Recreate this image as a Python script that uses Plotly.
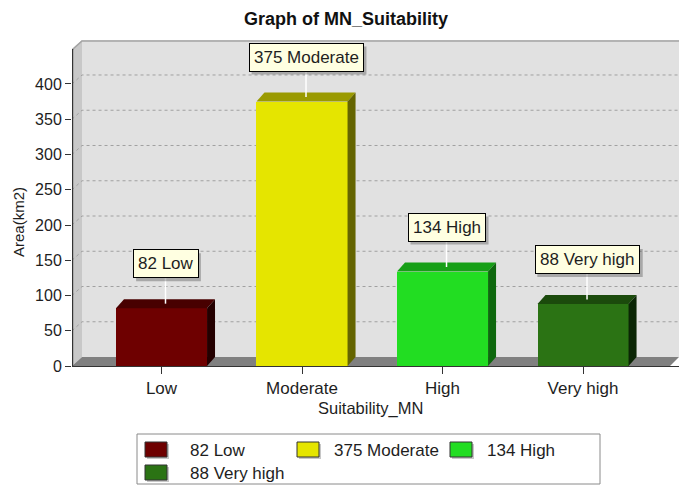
import plotly.graph_objects as go

# ---------------- data ----------------
categories = ["Low", "Moderate", "High", "Very high"]
areas = [82, 375, 134, 88]
front_colors = ["#6E0000", "#E5E500", "#22DD22", "#2B7314"]
top_colors = ["#480000", "#9A9A00", "#179F17", "#1B4A0C"]
side_colors = ["#240000", "#646400", "#0E680E", "#0B2605"]
y_ticks = [0, 50, 100, 150, 200, 250, 300, 350, 400]
chart_title = "Graph of MN_Suitability"
x_title = "Suitability_MN"
y_title = "Area(km2)"

# ---------------- geometry ----------------
W, H = 679, 485
L, R, T, B = 72, 0, 40, 119
plot_w = W - L - R
plot_h = H - T - B
XMIN, XMAX = -0.637, 3.683
YMAX = 462.4
FONT = "Liberation Sans, Arial, sans-serif"
TXT = "#1e1e1e"
LABEL_SIZE = 17
LABEL_PAD = 4

# approximate Arial advance widths (em) for sizing the label shadows
AW = {" ": .278, "L": .556, "o": .556, "w": .722, "M": .833, "d": .556, "e": .556,
      "r": .333, "a": .556, "t": .278, "H": .722, "i": .222, "g": .556, "h": .556,
      "V": .667, "y": .5}


def text_w(s, size):
    return sum(AW.get(c, .556) for c in s) * size


def dx(px):
    return px * (XMAX - XMIN) / plot_w


def dy(px):
    return px * YMAX / plot_h


def paper_x(px):
    return (px - L) / plot_w


def paper_y(py):
    return (H - B - py) / plot_h


BAR_W = 0.648
DXB, DYB = dx(8), dy(9)
DXW, DYW = dx(10), dy(9)

fig = go.Figure()
fig.add_trace(go.Bar(
    x=list(range(len(categories))), y=areas, width=BAR_W,
    marker=dict(color=front_colors, line=dict(width=0)),
    showlegend=False, hoverinfo="skip"))

shapes = []
# back wall
shapes.append(dict(type="rect", xref="x", yref="y", layer="below",
                   x0=XMIN + DXW, x1=XMAX + 1, y0=DYW, y1=YMAX + 10,
                   fillcolor="#E1E1E1", line=dict(width=0)))
# left wall
shapes.append(dict(type="path", xref="x", yref="y", layer="below",
                   path=f"M{XMIN},0 L{XMIN},{YMAX - DYW} L{XMIN + DXW},{YMAX} L{XMIN + DXW},{DYW} Z",
                   fillcolor="#C8C8C8", line=dict(width=0)))
# floor
shapes.append(dict(type="path", xref="x", yref="y", layer="below",
                   path=f"M{XMIN},0 L{XMIN + DXW},{DYW} L{XMAX},{DYW} L{XMIN + dx(670 - L)},0 Z",
                   fillcolor="#808080", line=dict(width=0)))
# top edge of walls
ytop = YMAX - dy(1)
shapes.append(dict(type="path", xref="x", yref="y", layer="below",
                   path=f"M{XMIN},{YMAX - DYW - dy(1)} L{XMIN + DXW},{ytop} L{XMAX},{ytop}",
                   line=dict(color="#A4A4A4", width=1.5)))
# back-wall grid lines
for t in y_ticks[1:]:
    shapes.append(dict(type="path", xref="x", yref="y", layer="below",
                       path=f"M{XMIN},{t} L{XMIN + DXW},{t + DYW} L{XMAX},{t + DYW}",
                       line=dict(color="#A0A0A0", width=1, dash="dot")))
# y axis line (front edge of the left wall)
shapes.append(dict(type="line", xref="x", yref="y", layer="above",
                   x0=XMIN + dx(0.6), x1=XMIN + dx(0.6), y0=0, y1=YMAX - DYW,
                   line=dict(color="#333333", width=1.2)))

annotations = []
LIFT = 30
for i, (cat, v) in enumerate(zip(categories, areas)):
    x0, x1 = i - BAR_W / 2, i + BAR_W / 2
    shapes.append(dict(type="path", xref="x", yref="y", layer="above",
                       path=f"M{x0},{v} L{x0 + DXB},{v + DYB} L{x1 + DXB},{v + DYB} L{x1},{v} Z",
                       fillcolor=top_colors[i], line=dict(width=0)))
    shapes.append(dict(type="path", xref="x", yref="y", layer="above",
                       path=f"M{x1},0 L{x1},{v} L{x1 + DXB},{v + DYB} L{x1 + DXB},{DYB} Z",
                       fillcolor=side_colors[i], line=dict(width=0)))
    xc = i + DXB / 2
    shapes.append(dict(type="line", xref="x", yref="y", layer="above",
                       x0=xc, x1=xc, y0=v + dy(4.5), y1=v + dy(LIFT),
                       line=dict(color="white", width=1.5)))
    label = f"{v} {cat}"
    bw = text_w(label, LABEL_SIZE) + 2 * LABEL_PAD + 2
    bh = 28
    # soft drop shadow of the label box
    shapes.append(dict(type="rect", xref="x", yref="y", layer="above",
                       xsizemode="pixel", ysizemode="pixel", xanchor=xc, yanchor=v,
                       x0=-bw / 2 + 3, x1=bw / 2 + 3, y0=LIFT - 3, y1=LIFT - 3 + bh,
                       fillcolor="rgba(0,0,0,0.25)", line=dict(width=0)))
    annotations.append(dict(x=xc, y=v, xref="x", yref="y", text=label,
                            showarrow=False, yanchor="bottom", xanchor="center",
                            yshift=LIFT,
                            font=dict(family=FONT, size=LABEL_SIZE, color=TXT),
                            bgcolor="#FFFFE1", bordercolor="#000000",
                            borderwidth=1, borderpad=LABEL_PAD))

# axis titles
annotations.append(dict(x=paper_x(370), y=paper_y(408), xref="paper", yref="paper",
                        text=x_title, showarrow=False, xanchor="center", yanchor="middle",
                        font=dict(family=FONT, size=16.5, color=TXT)))
annotations.append(dict(x=paper_x(18), y=paper_y(222), xref="paper", yref="paper",
                        text=y_title, showarrow=False, xanchor="center", yanchor="middle",
                        textangle=-90, font=dict(family=FONT, size=15, color=TXT)))

# manual legend
shapes.append(dict(type="rect", xref="paper", yref="paper", layer="above",
                   x0=paper_x(137), x1=paper_x(600), y0=paper_y(484), y1=paper_y(434),
                   fillcolor="white", line=dict(color="#8A8A8A", width=1)))
sw_pos = [(145, 442), (297, 442), (450, 442), (145, 465)]
tx_pos = [188, 332, 485, 188]
for i, (cat, v) in enumerate(zip(categories, areas)):
    sx, sy = sw_pos[i]
    shapes.append(dict(type="rect", xref="paper", yref="paper", layer="above",
                       x0=paper_x(sx + 2), x1=paper_x(sx + 24), y0=paper_y(sy + 17), y1=paper_y(sy + 2),
                       fillcolor="rgba(0,0,0,0.22)", line=dict(width=0)))
    shapes.append(dict(type="rect", xref="paper", yref="paper", layer="above",
                       x0=paper_x(sx), x1=paper_x(sx + 22), y0=paper_y(sy + 15), y1=paper_y(sy),
                       fillcolor=front_colors[i], line=dict(color="#333333", width=1)))
    annotations.append(dict(x=paper_x(tx_pos[i]), y=paper_y(sy + 8), xref="paper", yref="paper",
                            text=f"{v} {cat}", showarrow=False, xanchor="left", yanchor="middle",
                            font=dict(family=FONT, size=17, color=TXT)))

fig.update_layout(
    width=W, height=H,
    margin=dict(l=L, r=R, t=T, b=B, pad=0),
    paper_bgcolor="white", plot_bgcolor="white",
    title=dict(text=f"<b>{chart_title}</b>", x=346 / W, xanchor="center",
               y=1 - 19 / H, yanchor="middle", xref="container", yref="container",
               font=dict(family=FONT, size=18, color="#111111")),
    xaxis=dict(range=[XMIN, XMAX], tickvals=list(range(len(categories))), ticktext=categories,
               showgrid=False, zeroline=False, showline=True, linecolor="#333333", linewidth=1,
               ticks="outside", ticklen=7, tickcolor="#333333",
               tickfont=dict(family=FONT, size=17, color=TXT), fixedrange=True),
    yaxis=dict(range=[0, YMAX], tickvals=y_ticks, showgrid=False, zeroline=False,
               showline=False,
               ticks="outside", ticklen=6, tickcolor="#333333",
               tickfont=dict(family=FONT, size=16, color=TXT), fixedrange=True),
    shapes=shapes, annotations=annotations,
    bargap=0, showlegend=False,
)

fig.write_html("out.html", config={"displayModeBar": False},
               post_script="document.body.style.margin='0px';")
